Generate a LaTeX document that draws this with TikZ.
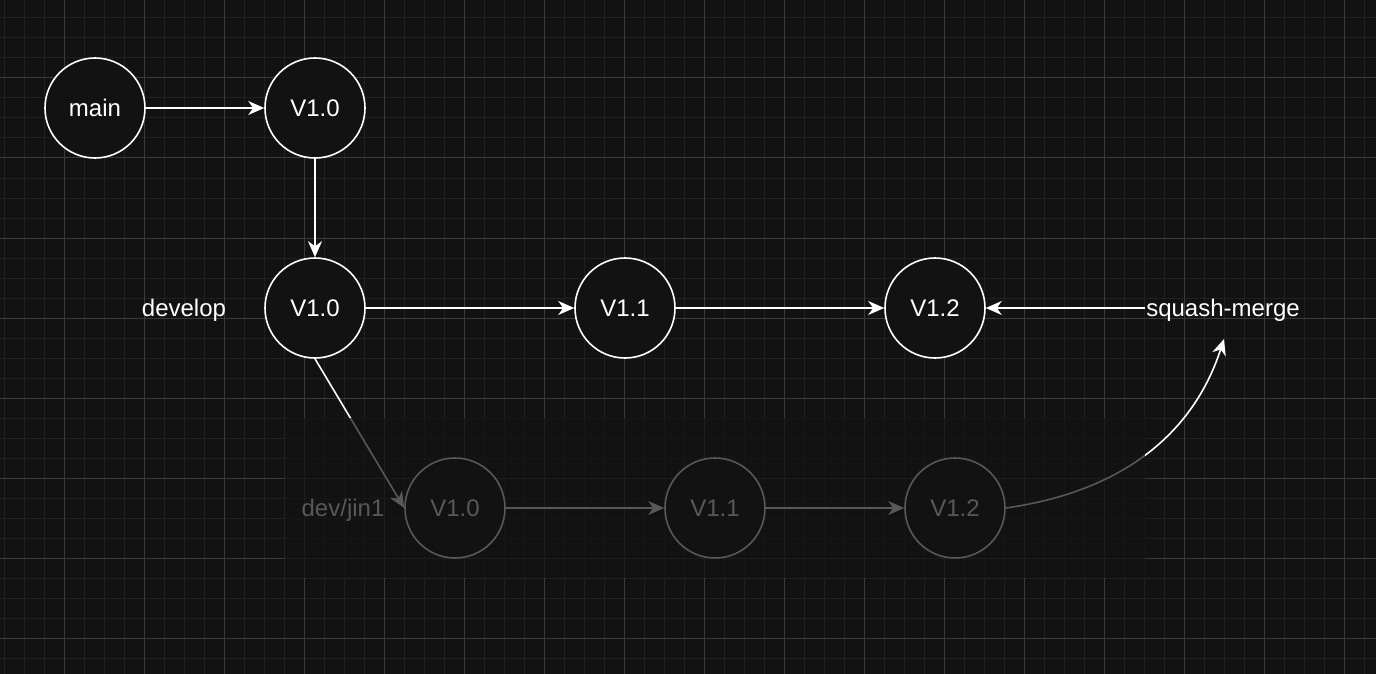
\documentclass[tikz,border=0pt]{standalone}
\usepackage{fontspec}
\setmainfont{Liberation Sans}
\usetikzlibrary{arrows.meta}

\definecolor{bgc}{HTML}{121212}
\definecolor{gridminor}{HTML}{202020}
\definecolor{gridmajor}{HTML}{3A3A3A}

\begin{document}
\begin{tikzpicture}[x=1pt, y=-1pt,
  commit/.style={circle, draw=white, line width=1.6pt, fill=bgc, minimum size=100pt,
    inner sep=0pt, text=white, text height=17pt, text depth=0pt,
    font=\fontsize{24}{28}\selectfont},
  lbl/.style={text=white, inner sep=1pt, text height=17pt, text depth=0pt,
    font=\fontsize{24}{28}\selectfont},
  flow/.style={draw=white, line width=1.6pt, -{Stealth[length=16pt,width=14pt,inset=5pt]}},
]

\fill[bgc] (0,0) rectangle (1376,674);
\useasboundingbox (0,0) rectangle (1376,674);

% grid
\foreach \x in {4,24,...,1364} \draw[gridminor, line width=1pt] (\x,0) -- (\x,674);
\foreach \y in {18,38,...,658} \draw[gridminor, line width=1pt] (0,\y) -- (1376,\y);
\foreach \x in {64,144,...,1344} \draw[gridmajor, line width=1pt] (\x,0) -- (\x,674);
\foreach \y in {78,158,...,638} \draw[gridmajor, line width=1pt] (0,\y) -- (1376,\y);

% main
\node[commit] (mainn) at (95,108) {main};
\node[commit] (mainv) at (315,108) {V1.0};

% develop
\node[lbl] (devlbl) at (184,308) {develop};
\node[commit] (devv0) at (315,308) {V1.0};
\node[commit] (devv1) at (625,308) {V1.1};
\node[commit] (devv2) at (935,308) {V1.2};
\node[lbl] (sm) at (1223,308) {squash-merge};

% dev/jin1
\node[lbl] (jinlbl) at (343,508) {dev/jin1};
\node[commit] (jinv0) at (455,508) {V1.0};
\node[commit] (jinv1) at (715,508) {V1.1};
\node[commit] (jinv2) at (955,508) {V1.2};

\coordinate (smtip) at (1224,339);

\draw[flow] (mainn) -- (mainv);
\draw[flow] (mainv) -- (devv0);
\draw[flow] (devv0) -- (devv1);
\draw[flow] (devv1) -- (devv2);
\draw[flow] (sm.west) -- (devv2.east);
\draw[flow] (devv0.south) -- (jinv0.west);
\draw[flow] (jinv0) -- (jinv1);
\draw[flow] (jinv1) -- (jinv2);
\draw[flow] (jinv2.east) to[out=8, in=-108] (smtip);

% faded branch
\fill[bgc, opacity=0.7] (285,418) rectangle (1145,578);

\end{tikzpicture}
\end{document}
